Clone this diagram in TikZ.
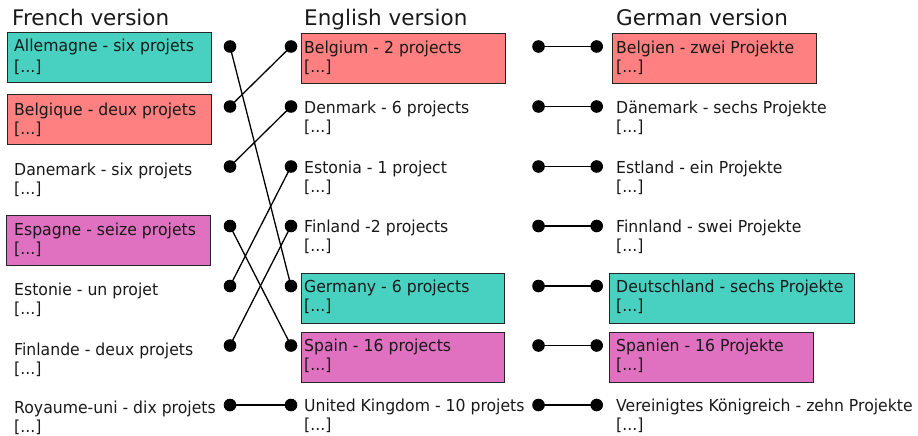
\documentclass[tikz,border=0pt]{standalone}
\usepackage{fontspec}
\setmainfont{DejaVu Sans}
\newfontfamily\bodyfont{DejaVu Sans}[FakeStretch=0.95]
\definecolor{boxteal}{RGB}{72,209,192}
\definecolor{boxred}{RGB}{255,128,128}
\definecolor{boxpink}{RGB}{224,112,192}
\begin{document}
\begin{tikzpicture}[x=1pt,y=-1pt,
  box/.style={draw=black!85,line width=1.3pt,inner sep=0pt,anchor=north west,minimum height=50pt},
  lbl/.style={anchor=base west,inner sep=0pt,text=black!90,font=\bodyfont\fontsize{16.5}{19}\selectfont},
  ttl/.style={anchor=base west,inner sep=0pt,text=black!90,font=\fontsize{21.5}{25}\selectfont},
  dotnode/.style={circle,fill=black,inner sep=0pt,minimum size=12.6pt},
  conn/.style={line width=1.3pt,black}]
\useasboundingbox (0,0) rectangle (918,436);

% titles
\node[ttl] (tfr) at (12,26) {French version};
\node[ttl] (ten) at (304,26) {English version};
\node[ttl] (tde) at (616,26) {German version};

% boxes
\node[box,fill=boxteal,minimum width=204pt] (bfr1) at (7,32) {};
\node[box,fill=boxred,minimum width=204pt] (bfr2) at (7,94) {};
\node[box,fill=boxpink,minimum width=204pt] (bfr4) at (6,215) {};
\node[box,fill=boxred,minimum width=204pt] (ben1) at (301,33) {};
\node[box,fill=boxteal,minimum width=203pt] (ben5) at (301,273) {};
\node[box,fill=boxpink,minimum width=203pt] (ben6) at (301,332) {};
\node[box,fill=boxred,minimum width=204pt] (bde1) at (612,33) {};
\node[box,fill=boxteal,minimum width=245pt] (bde5) at (609,273) {};
\node[box,fill=boxpink,minimum width=204pt] (bde6) at (609,332) {};

% French texts
\node[lbl] (fr1) at (14,52) {Allemagne - six projets};
\node[lbl] (fr1b) at (14,72) {[...]};
\node[lbl] (fr2) at (14,115) {Belgique - deux projets};
\node[lbl] (fr2b) at (14,134) {[...]};
\node[lbl] (fr3) at (14,175) {Danemark - six projets};
\node[lbl] (fr3b) at (14,194) {[...]};
\node[lbl] (fr4) at (14,235) {Espagne - seize projets};
\node[lbl] (fr4b) at (14,254) {[...]};
\node[lbl] (fr5) at (14,295) {Estonie - un projet};
\node[lbl] (fr5b) at (14,314) {[...]};
\node[lbl] (fr6) at (14,355) {Finlande - deux projets};
\node[lbl] (fr6b) at (14,374) {[...]};
\node[lbl] (fr7) at (14,413) {Royaume-uni - dix projets};
\node[lbl] (fr7b) at (14,432) {[...]};

% English texts
\node[lbl] (en1) at (304,53.3) {Belgium - 2 projects};
\node[lbl] (en1b) at (304,72) {[...]};
\node[lbl] (en2) at (304,113.3) {Denmark - 6 projects};
\node[lbl] (en2b) at (304,132) {[...]};
\node[lbl] (en3) at (304,173) {Estonia - 1 project};
\node[lbl] (en3b) at (304,192) {[...]};
\node[lbl] (en4) at (304,232.5) {Finland -2 projects};
\node[lbl] (en4b) at (304,251.5) {[...]};
\node[lbl] (en5) at (304,292.3) {Germany - 6 projects};
\node[lbl] (en5b) at (304,311) {[...]};
\node[lbl] (en6) at (304,351.7) {Spain - 16 projects};
\node[lbl] (en6b) at (304,370.5) {[...]};
\node[lbl] (en7) at (304,411.7) {United Kingdom - 10 projets};
\node[lbl] (en7b) at (304,430.5) {[...]};

% German texts
\node[lbl] (de1) at (616,53.3) {Belgien - zwei Projekte};
\node[lbl] (de1b) at (616,72) {[...]};
\node[lbl] (de2) at (616,113.3) {Dänemark - sechs Projekte};
\node[lbl] (de2b) at (616,132) {[...]};
\node[lbl] (de3) at (616,173) {Estland - ein Projekte};
\node[lbl] (de3b) at (616,192) {[...]};
\node[lbl] (de4) at (616,232.5) {Finnland - swei Projekte};
\node[lbl] (de4b) at (616,251.5) {[...]};
\node[lbl] (de5) at (616,292.3) {Deutschland - sechs Projekte};
\node[lbl] (de5b) at (616,311) {[...]};
\node[lbl] (de6) at (616,351.7) {Spanien - 16 Projekte};
\node[lbl] (de6b) at (616,370.5) {[...]};
\node[lbl] (de7) at (616,411.7) {Vereinigtes Königreich - zehn Projekte};
\node[lbl] (de7b) at (616,430.5) {[...]};

% dots
\foreach \i/\y in {1/46.5,2/106.5,3/166.5,4/226,5/286,6/345.5,7/405}{
  \node[dotnode] (fd\i) at (230,\y) {};
  \node[dotnode] (el\i) at (291,\y) {};
  \node[dotnode] (er\i) at (538.5,\y) {};
  \node[dotnode] (dl\i) at (596.7,\y) {};
}

% French -> English connectors
\draw[conn] (fd1.center) -- (el5.center);
\draw[conn] (fd2.center) -- (el1.center);
\draw[conn] (fd3.center) -- (el2.center);
\draw[conn] (fd4.center) -- (el6.center);
\draw[conn] (fd5.center) -- (el3.center);
\draw[conn] (fd6.center) -- (el4.center);
\draw[conn] (fd7.center) -- (el7.center);

% English -> German connectors
\foreach \i in {1,...,7}{
  \draw[conn] (er\i.center) -- (dl\i.center);
}
\end{tikzpicture}
\end{document}
